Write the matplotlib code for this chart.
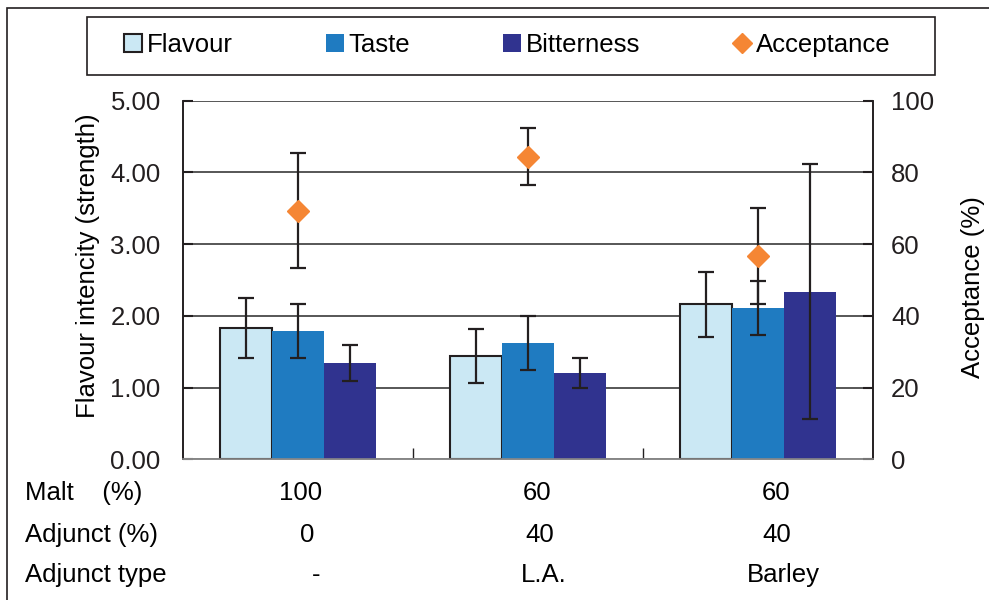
import matplotlib
matplotlib.use("Agg")
import matplotlib.pyplot as plt
import matplotlib.transforms as mtransforms
from matplotlib.patches import Rectangle
from matplotlib.lines import Line2D
import numpy as np

plt.rcParams['font.family'] = ['Liberation Sans', 'DejaVu Sans']

# data
groups = ['100/0/-', '60/40/L.A.', '60/40/Barley']
flavour = [1.83, 1.44, 2.16]
flavour_err = [0.42, 0.38, 0.45]
taste = [1.79, 1.62, 2.11]
taste_err = [0.38, 0.38, 0.375]
bitterness = [1.34, 1.20, 2.34]
bitterness_err = [0.25, 0.21, 1.78]
acceptance = [69.3, 84.4, 56.7]
acceptance_err = [16.0, 8.0, 13.4]

row_names = ['Malt    (%)', 'Adjunct (%)', 'Adjunct type']
malt_row = ['100', '60', '60']
adjunct_row = ['0', '40', '40']
type_row = ['-', 'L.A.', 'Barley']

c_flav = '#CBE8F4'
c_taste = '#1F7BC1'
c_bitter = '#30338F'
c_acc = '#F58634'
fs = 18.5

fig = plt.figure(figsize=(9.89, 6.0), dpi=100)
ax = fig.add_axes([0.185, 0.2345, 0.6977, 0.5975])
ax2 = ax.twinx()

x = np.arange(len(groups))
w = 0.227
err_kw = dict(ecolor='#231F20', elinewidth=1.6, capsize=6, capthick=1.6)

ax.bar(x - w, flavour, w, color=c_flav, edgecolor='#231F20', linewidth=1.5,
       yerr=flavour_err, error_kw=err_kw, zorder=3)
ax.bar(x, taste, w, color=c_taste, yerr=taste_err, error_kw=err_kw, zorder=3)
ax.bar(x + w, bitterness, w, color=c_bitter, yerr=bitterness_err,
       error_kw=err_kw, zorder=3)

ax2.errorbar(x, acceptance, yerr=acceptance_err, fmt='D', color=c_acc,
             markersize=11.5, ecolor='#231F20', elinewidth=1.6, capsize=6,
             capthick=1.6, zorder=4)

ax.set_xlim(-0.5, 2.5)
ax.set_ylim(0, 5)
ax2.set_ylim(0, 100)
ax.set_yticks(np.arange(0, 5.01, 1))
ax.set_yticklabels([f'{v:.2f}' for v in np.arange(0, 5.01, 1)])
ax2.set_yticks(np.arange(0, 101, 20))

ax.set_xticks([0.5, 1.5])
ax.set_xticklabels([])
ax.tick_params(axis='x', direction='in', length=8, width=1, colors='#231F20')
ax.tick_params(axis='y', direction='in', length=7, width=1.5, labelsize=fs,
               pad=16, colors='#231F20')
ax2.tick_params(axis='y', direction='in', length=7, width=1.5, labelsize=fs,
                pad=13, colors='#231F20')

ax.grid(axis='y', color='#3a3a3a', linewidth=1.2, zorder=0)
ax.set_axisbelow(True)
for a in (ax, ax2):
    a.spines['top'].set_visible(False)
    for s in ('left', 'right', 'bottom'):
        a.spines[s].set_color('#231F20')
        a.spines[s].set_linewidth(1.2)
ax.spines['bottom'].set_color('#888888')
ax2.spines['bottom'].set_color('#888888')

ax.set_ylabel('Flavour intencity (strength)', fontsize=fs)
ax.yaxis.set_label_coords(-0.12, 0.54)
ax2.set_ylabel('Acceptance (%)', fontsize=fs)
ax2.yaxis.set_label_coords(1.127, 0.48)

# table rows under the axis
trans = mtransforms.blended_transform_factory(ax.transData, fig.transFigure)
row_y = [0.178, 0.108, 0.042]
nudges = [[0.01, 0.04, 0.08], [0.04, 0.05, 0.08], [0.08, 0.07, 0.11]]
for r, (name, vals) in enumerate(zip(row_names, [malt_row, adjunct_row, type_row])):
    fig.text(25 / 989, row_y[r], name, fontsize=fs, ha='left', va='center')
    for i, v in enumerate(vals):
        fig.text(x[i] + nudges[r][i], row_y[r], v, transform=trans,
                 fontsize=fs, ha='center', va='center')

# legend with its own frame
fig.patches.append(Rectangle((87 / 989, 1 - 75 / 600), 848 / 989, 58 / 600,
                             transform=fig.transFigure, fill=False,
                             edgecolor='#231F20', linewidth=1.2))
handles = [
    Rectangle((0, 0), 1, 1, facecolor=c_flav, edgecolor='#231F20', linewidth=1.5),
    Rectangle((0, 0), 1, 1, facecolor=c_taste),
    Rectangle((0, 0), 1, 1, facecolor=c_bitter),
    Line2D([], [], marker='D', color=c_acc, linestyle='none', markersize=10),
]
fig.legend(handles, ['Flavour', 'Taste', 'Bitterness', 'Acceptance'],
           loc='center', bbox_to_anchor=(0.513, 1 - 45 / 600), ncol=4,
           frameon=False, fontsize=fs, handlelength=0.7, handleheight=0.7,
           handletextpad=0.2, columnspacing=3.6)

# outer frame
fig.patches.append(Rectangle((7 / 989, -0.01), 1.0, 1 - 8 / 600 + 0.01,
                             transform=fig.transFigure, fill=False,
                             edgecolor='#231F20', linewidth=1.2))

fig.savefig('out.png', dpi=100)
